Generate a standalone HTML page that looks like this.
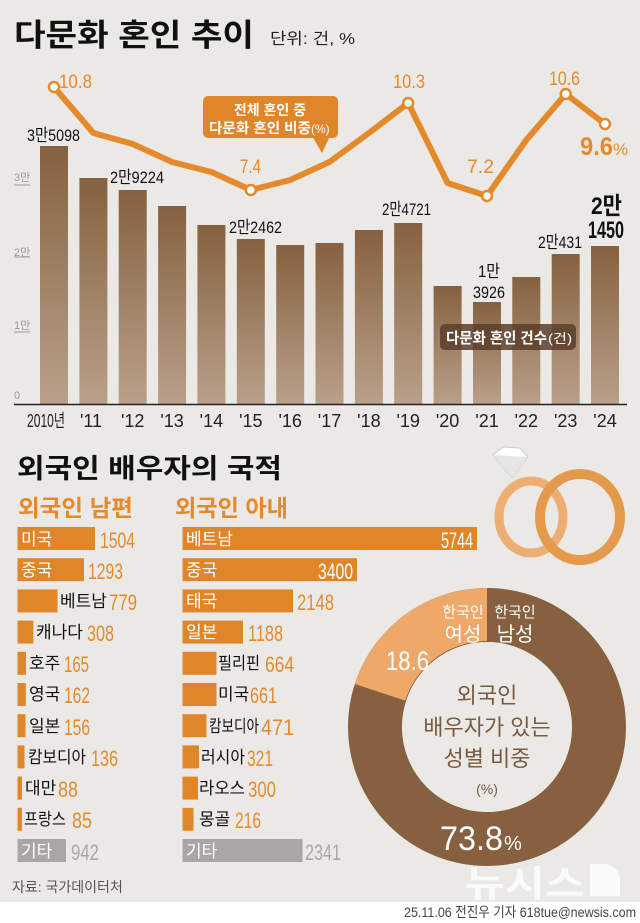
<!DOCTYPE html>
<html><head><meta charset="utf-8"><style>
html,body{margin:0;padding:0;background:#ebe9e6;}
svg{display:block;font-family:"Liberation Sans","Noto Sans CJK KR",sans-serif;}
</style></head><body>
<svg width="640" height="923" viewBox="0 0 640 923" xmlns="http://www.w3.org/2000/svg">
<defs>
<linearGradient id="bg" x1="0" y1="0" x2="0" y2="1"><stop offset="0" stop-color="#86613f"/><stop offset="1" stop-color="#b9a08a"/></linearGradient>
</defs>
<rect width="640" height="923" fill="#ebe9e6"/>
<rect y="902" width="640" height="21" fill="#fff"/>

<!-- title -->
<text x="14" y="46" font-size="31" font-weight="bold" fill="#111" textLength="240" lengthAdjust="spacingAndGlyphs">다문화 혼인 추이</text>
<text x="270" y="44" font-size="16" fill="#222" textLength="85" lengthAdjust="spacingAndGlyphs">단위: 건, %</text>

<!-- y ticks -->
<g fill="#999" font-size="11">
<text x="14" y="181">3만</text><line x1="14" y1="185" x2="30" y2="185" stroke="#999"/>
<text x="14" y="256">2만</text><line x1="14" y1="257" x2="30" y2="257" stroke="#999"/>
<text x="14" y="329">1만</text><line x1="14" y1="332" x2="30" y2="332" stroke="#999"/>
<text x="14" y="399">0</text>
</g>

<!-- bars -->
<g fill="url(#bg)">
<rect x="40" y="146" width="28" height="258"/>
<rect x="79.4" y="178" width="28" height="226"/>
<rect x="118.7" y="190" width="28" height="214"/>
<rect x="158.1" y="206" width="28" height="198"/>
<rect x="197.4" y="225" width="28" height="179"/>
<rect x="236.8" y="239" width="28" height="165"/>
<rect x="276.2" y="245" width="28" height="159"/>
<rect x="315.5" y="243" width="28" height="161"/>
<rect x="354.9" y="230" width="28" height="174"/>
<rect x="394.2" y="223" width="28" height="181"/>
<rect x="433.6" y="286" width="28" height="118"/>
<rect x="473" y="302" width="28" height="102"/>
<rect x="512.3" y="277" width="28" height="127"/>
<rect x="551.7" y="254" width="28" height="150"/>
<rect x="591" y="246" width="28" height="158"/>
</g>
<line x1="14" y1="404.5" x2="627" y2="404.5" stroke="#222" stroke-width="1.5"/>

<!-- x labels -->
<g font-size="18" fill="#222" text-anchor="middle">
<text x="46" y="427" textLength="38" lengthAdjust="spacingAndGlyphs">2010년</text>
<text x="91" y="427">'11</text>
<text x="132.7" y="427">'12</text>
<text x="172.1" y="427">'13</text>
<text x="211.4" y="427">'14</text>
<text x="250.8" y="427">'15</text>
<text x="290.2" y="427">'16</text>
<text x="329.5" y="427">'17</text>
<text x="368.9" y="427">'18</text>
<text x="408.2" y="427">'19</text>
<text x="447.6" y="427">'20</text>
<text x="487" y="427">'21</text>
<text x="526.3" y="427">'22</text>
<text x="565.7" y="427">'23</text>
<text x="605" y="427">'24</text>
</g>

<!-- bar value labels -->
<g font-size="17" fill="#111">
<text x="27" y="141" textLength="53" lengthAdjust="spacingAndGlyphs">3만5098</text>
<text x="110" y="183" textLength="54" lengthAdjust="spacingAndGlyphs">2만9224</text>
<text x="229" y="233" textLength="53" lengthAdjust="spacingAndGlyphs">2만2462</text>
<text x="382" y="215" textLength="49" lengthAdjust="spacingAndGlyphs">2만4721</text>
<text x="478" y="277" textLength="22" lengthAdjust="spacingAndGlyphs">1만</text>
<text x="473" y="298" textLength="32" lengthAdjust="spacingAndGlyphs">3926</text>
<text x="538" y="248" textLength="44" lengthAdjust="spacingAndGlyphs">2만431</text>
</g>
<g font-size="24" font-weight="bold" fill="#111">
<text x="591" y="214" textLength="31" lengthAdjust="spacingAndGlyphs">2만</text>
<text x="588" y="238" textLength="36" lengthAdjust="spacingAndGlyphs">1450</text>
</g>

<!-- bar legend box -->
<rect x="440" y="324" width="136" height="26" rx="5" fill="#5a3e2c" fill-opacity="0.85"/>
<text x="446" y="343" font-size="15" font-weight="bold" fill="#fff" textLength="101" lengthAdjust="spacingAndGlyphs">다문화 혼인 건수</text><text x="548" y="343" font-size="13" fill="#fff" textLength="24" lengthAdjust="spacingAndGlyphs">(건)</text>

<!-- line -->
<polyline fill="none" stroke="#e48a2c" stroke-width="6" stroke-linejoin="round" points="54,87 93.4,133 132.7,144 172.1,162 211.4,172 250.8,190 290.2,180 329.5,162 368.9,133 408.2,103 447.6,183 487,196 526.3,140 565.7,94 605,124"/>
<g fill="#fff" stroke="#e48a2c" stroke-width="2.5">
<circle cx="54" cy="87" r="5"/><circle cx="250.8" cy="190" r="5"/><circle cx="408.2" cy="103" r="5"/><circle cx="487" cy="196" r="5"/><circle cx="565.7" cy="94" r="5"/><circle cx="605" cy="124" r="5"/>
</g>
<g font-size="19" fill="#e48a2c">
<text x="59" y="88" textLength="33" lengthAdjust="spacingAndGlyphs">10.8</text>
<text x="240" y="173" textLength="21" lengthAdjust="spacingAndGlyphs">7.4</text>
<text x="393" y="88" textLength="32" lengthAdjust="spacingAndGlyphs">10.3</text>
<text x="467" y="173" textLength="27" lengthAdjust="spacingAndGlyphs">7.2</text>
<text x="549" y="85" textLength="31" lengthAdjust="spacingAndGlyphs">10.6</text>
</g>
<text x="580" y="155" font-size="25" font-weight="bold" fill="#e48a2c" textLength="33" lengthAdjust="spacingAndGlyphs">9.6</text>
<text x="613" y="155" font-size="17" fill="#e48a2c">%</text>

<!-- callout -->
<rect x="203" y="96" width="135" height="42" rx="5" fill="#e0862a"/>
<polygon points="312,136 330,136 322,153" fill="#e0862a"/>
<text x="270" y="115" font-size="14" font-weight="bold" fill="#fff" text-anchor="middle">전체 혼인 중</text>
<text x="209" y="133" font-size="14" font-weight="bold" fill="#fff" textLength="102" lengthAdjust="spacingAndGlyphs">다문화 혼인 비중</text><text x="311" y="133" font-size="12" fill="#fff">(%)</text>

<!-- section 2 -->
<text x="17" y="478" font-size="27" font-weight="bold" fill="#111" textLength="265" lengthAdjust="spacingAndGlyphs">외국인 배우자의 국적</text>
<text x="18" y="516" font-size="23" font-weight="bold" fill="#e48a2c" textLength="115" lengthAdjust="spacingAndGlyphs">외국인 남편</text>
<text x="175" y="516" font-size="23" font-weight="bold" fill="#e48a2c" textLength="113" lengthAdjust="spacingAndGlyphs">외국인 아내</text>

<!-- husband bars -->
<g fill="#e0862a">
<rect x="17.5" y="527" width="77.5" height="23"/>
<rect x="17.5" y="558.2" width="66.5" height="23"/>
<rect x="17.5" y="589.4" width="40" height="23"/>
<rect x="17.5" y="620.6" width="15.8" height="23"/>
<rect x="17.5" y="651.8" width="8.5" height="23"/>
<rect x="17.5" y="683" width="8.3" height="23"/>
<rect x="17.5" y="714.2" width="8" height="23"/>
<rect x="17.5" y="745.4" width="7" height="23"/>
<rect x="17.5" y="776.6" width="4.5" height="23"/>
<rect x="17.5" y="807.8" width="4.4" height="23"/>
</g>
<rect x="17.5" y="839" width="48.5" height="23" fill="#a9a6a3"/>
<g font-size="17" fill="#fff">
<text x="21" y="545">미국</text><text x="21" y="576">중국</text><text x="21" y="857">기타</text>
</g>
<g font-size="17" fill="#111">
<text x="60" y="607">베트남</text>
<text x="36" y="638">캐나다</text>
<text x="29" y="669">호주</text>
<text x="29" y="700">영국</text>
<text x="29" y="732">일본</text>
<text x="28" y="763" textLength="58" lengthAdjust="spacingAndGlyphs">캄보디아</text>
<text x="25" y="794">대만</text>
<text x="24" y="825" textLength="42" lengthAdjust="spacingAndGlyphs">프랑스</text>
</g>
<g font-size="22" fill="#e48a2c">
<text x="100" y="548" textLength="35" lengthAdjust="spacingAndGlyphs">1504</text>
<text x="88" y="579" textLength="35" lengthAdjust="spacingAndGlyphs">1293</text>
<text x="109" y="610" textLength="28" lengthAdjust="spacingAndGlyphs">779</text>
<text x="87" y="641" textLength="27" lengthAdjust="spacingAndGlyphs">308</text>
<text x="64" y="672" textLength="25" lengthAdjust="spacingAndGlyphs">165</text>
<text x="64" y="703" textLength="26" lengthAdjust="spacingAndGlyphs">162</text>
<text x="64" y="735" textLength="26" lengthAdjust="spacingAndGlyphs">156</text>
<text x="91" y="766" textLength="27" lengthAdjust="spacingAndGlyphs">136</text>
<text x="58" y="797" textLength="20" lengthAdjust="spacingAndGlyphs">88</text>
<text x="72" y="828" textLength="20" lengthAdjust="spacingAndGlyphs">85</text>
</g>
<text x="71" y="860" font-size="22" fill="#a9a6a3" textLength="28" lengthAdjust="spacingAndGlyphs">942</text>

<!-- wife bars -->
<g fill="#e0862a">
<rect x="182.5" y="527" width="294.5" height="23"/>
<rect x="182.5" y="558.2" width="174.5" height="23"/>
<rect x="182.5" y="589.4" width="110.5" height="23"/>
<rect x="182.5" y="620.6" width="60.5" height="23"/>
<rect x="182.5" y="651.8" width="34" height="23"/>
<rect x="182.5" y="683" width="34" height="23"/>
<rect x="182.5" y="714.2" width="24" height="23"/>
<rect x="182.5" y="745.4" width="16.5" height="23"/>
<rect x="182.5" y="776.6" width="15.5" height="23"/>
<rect x="182.5" y="807.8" width="11" height="23"/>
</g>
<rect x="182.5" y="839" width="120" height="23" fill="#a9a6a3"/>
<g font-size="17" fill="#fff">
<text x="186" y="545">베트남</text><text x="186" y="576">중국</text><text x="186" y="607">태국</text><text x="186" y="638">일본</text><text x="186" y="857">기타</text>
</g>
<g font-size="22" fill="#fff">
<text x="441" y="548" textLength="32" lengthAdjust="spacingAndGlyphs">5744</text>
<text x="318" y="579" textLength="35" lengthAdjust="spacingAndGlyphs">3400</text>
</g>
<g font-size="17" fill="#111">
<text x="218" y="669" textLength="42" lengthAdjust="spacingAndGlyphs">필리핀</text>
<text x="218" y="700">미국</text>
<text x="209" y="732" textLength="50" lengthAdjust="spacingAndGlyphs">캄보디아</text>
<text x="201" y="763" textLength="44" lengthAdjust="spacingAndGlyphs">러시아</text>
<text x="199" y="794" textLength="46" lengthAdjust="spacingAndGlyphs">라오스</text>
<text x="199" y="825">몽골</text>
</g>
<g font-size="22" fill="#e48a2c">
<text x="297" y="610" textLength="37" lengthAdjust="spacingAndGlyphs">2148</text>
<text x="248" y="641" textLength="35" lengthAdjust="spacingAndGlyphs">1188</text>
<text x="265" y="672" textLength="29" lengthAdjust="spacingAndGlyphs">664</text>
<text x="250" y="703" textLength="27" lengthAdjust="spacingAndGlyphs">661</text>
<text x="261" y="735" textLength="33" lengthAdjust="spacingAndGlyphs">471</text>
<text x="247" y="766" textLength="26" lengthAdjust="spacingAndGlyphs">321</text>
<text x="248" y="797" textLength="28" lengthAdjust="spacingAndGlyphs">300</text>
<text x="235" y="828" textLength="26" lengthAdjust="spacingAndGlyphs">216</text>
</g>
<text x="305" y="860" font-size="22" fill="#a9a6a3" textLength="36" lengthAdjust="spacingAndGlyphs">2341</text>

<!-- rings -->
<ellipse cx="531" cy="517" rx="32" ry="36" fill="none" stroke="#ecae72" stroke-width="9"/>
<ellipse cx="580" cy="517" rx="40" ry="43" fill="none" stroke="#e49a4c" stroke-width="10"/>
<polygon points="493,455 503,447 520,448 528,457 512,478" fill="#fff" stroke="#ccc" stroke-width="1"/>
<polygon points="493,455 528,457 512,478" fill="#e6e6e6"/>

<!-- donut -->
<circle cx="487" cy="727" r="112" fill="none" stroke="#86603f" stroke-width="54"/>
<path d="M487,588 A139,139 0 0 0 354.8,684 L405.2,700.6 A86,86 0 0 1 487,641 Z" fill="#eda86a"/>
<circle cx="487" cy="727" r="85" fill="#ebe9e6"/>
<g fill="#fff" text-anchor="middle">
<text x="463" y="617" font-size="15">한국인</text>
<text x="463" y="641" font-size="20">여성</text>
<text x="515" y="617" font-size="15">한국인</text>
<text x="515" y="641" font-size="20">남성</text>
</g>
<text x="386" y="670" font-size="27" fill="#fff" textLength="43" lengthAdjust="spacingAndGlyphs">18.6</text>
<g fill="#7a5a40" text-anchor="middle" font-size="22">
<text x="487" y="703">외국인</text>
<text x="487" y="735">배우자가 있는</text>
<text x="487" y="766">성별 비중</text>
<text x="487" y="794" font-size="14">(%)</text>
</g>
<text x="440" y="850" font-size="34" fill="#fff" textLength="63" lengthAdjust="spacingAndGlyphs">73.8</text>
<text x="504" y="850" font-size="20" fill="#fff">%</text>

<!-- footer -->
<text x="465" y="896" font-size="36" font-weight="bold" fill="#fff" fill-opacity="0.75" textLength="120" lengthAdjust="spacingAndGlyphs">뉴시스</text>
<path d="M590,864 h14 a16,16 0 0 1 16,16 v16 h-30 z" fill="#fff" fill-opacity="0.75"/>
<text x="12" y="892" font-size="14" fill="#555">자료: 국가데이터처</text>
<text x="636" y="917" font-size="14" fill="#444" text-anchor="end" textLength="232" lengthAdjust="spacingAndGlyphs">25.11.06 전진우 기자 618tue@newsis.com</text>
</svg>
</body></html>
